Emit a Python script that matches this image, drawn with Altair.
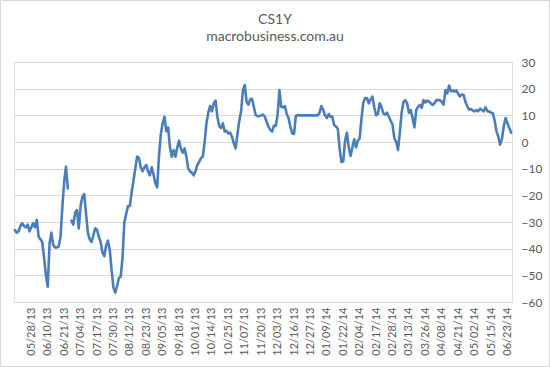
import altair as alt
import pandas as pd

# CS1Y daily values (business days), None = missing observation
values = [
    -33, -34, -33.5, -31.5, -30.5, -31.5, -32, -31, -33.5, -32,
    -30.5, -32, -29.2, -35.5, -36.5, -37.5, -43.5, -50, -54.3, -38,
    -34, -38.6, -39.5, -39.5, -39.2, -35.5, -24.5, -15, -9.25, -17.4,
    None, -29.5, -31, -26.5, -25.5, -32.4, -24, -20.5, -19.5, -27,
    -34, -36.5, -37.5, -35, -32.4, -32.9, -35.5, -37.5, -41.5, -42.8,
    -38.8, -37, -40.5, -48, -54.5, -56.5, -54, -51, -50.5, -43.5,
    -30, -27, -24, -24, -19, -14.5, -9.9, -5.5, -6, -9.5,
    -11, -9.5, -8.6, -11.1, -12.5, -9.5, -12.3, -15.5, -17, -5,
    3, 7, 9.5, 4, 5.5, -2, -5.5, -3, -5.5, -2,
    0.5, -2.5, -4, -2.4, -5.5, -9.9, -11, -11.5, -12.5, -11,
    -8.5, -7.5, -6, -5.5, 0, 7, 11, 13.5, 11.5, 14.5,
    15.5, 9.5, 6, 5.2, 7, 3.9, 4.2, 3.2, 3.5, 2,
    -0.5, -2.4, 3, 8, 11.5, 19.5, 21.4, 15, 14, 16,
    16.2, 13, 10.1, 9.7, 9.7, 10, 10.3, 9.5, 7.5, 5.8,
    4.5, 3.9, 6.2, 6, 10, 19.5, 13.2, 13, 13.5, 10.5,
    9, 5.7, 3.2, 3, 9.8, 10, 10, 10, 10, 10,
    10, 10, 10, 10, 10, 10, 10, 11, 13.5, 12,
    10, 9, 10.5, 9.5, 9.5, 6.4, 5.8, 5, -2.5, -7.5,
    -7.2, 0.5, 3.5, -2, -5.2, -2, 1, -2, 0.5, 1.4,
    8.9, 14.8, 16.5, 16.5, 14.5, 16, 17, 13, 10, 10.5,
    14.5, 13, 10.7, 10.3, 11, 9.5, 8, 6.5, 1.5, 0.1,
    -3, 3.5, 11, 15, 15.7, 14.5, 11, 12, 8.9, 5.5,
    12, 13.2, 13.9, 12.8, 15.7, 14.8, 15.5, 15.2, 14.5, 13.9,
    14.5, 15.7, 15.7, 15.7, 15, 14, 19.5, 18.2, 21.2, 19,
    19.4, 18.9, 19.4, 18, 17.1, 17.8, 17.6, 15, 13.4, 12.1,
    12.4, 11.8, 11.5, 12, 11.5, 12.5, 12, 11.5, 13, 11.5,
    11.5, 11, 10.8, 8, 4, 2, -1, 1.2, 6, 9,
    7, 5.3, 3.5,
]

tick_labels = [
    "05/28/13", "06/10/13", "06/21/13", "07/04/13", "07/17/13", "07/30/13",
    "08/12/13", "08/23/13", "09/05/13", "09/18/13", "10/01/13", "10/14/13",
    "10/25/13", "11/07/13", "11/20/13", "12/03/13", "12/16/13", "12/27/13",
    "01/09/14", "01/22/14", "02/04/14", "02/17/14", "02/28/14", "03/13/14",
    "03/26/14", "04/08/14", "04/21/14", "05/02/14", "05/15/14", "06/23/14",
]
first_label_index = 9
label_step = 9

y_ticks = [-60, -50, -40, -30, -20, -10, 0, 10, 20, 30]

title_text = "CS1Y"
subtitle_text = "macrobusiness.com.au"

n = len(values)
seg = []
s = 0
for v in values:
    if v is None:
        s += 1
    seg.append(s)
df = pd.DataFrame({"i": list(range(n)), "v": values, "seg": seg})
df = df[df["v"].notna()]

label_positions = [first_label_index + label_step * k for k in range(len(tick_labels))]
label_array = "[" + ",".join("'" + t + "'" for t in tick_labels) + "]"
label_expr = f"{label_array}[round((datum.value - {first_label_index}) / {label_step})]"

FONT = "Lato"
GRAY = "#595959"

x_enc = alt.X(
    "i:Q",
    scale=alt.Scale(domain=[-0.5, n - 0.5], nice=False, zero=False),
    axis=alt.Axis(
        values=label_positions,
        labelExpr=label_expr,
        labelAngle=-90,
        labelFont=FONT,
        labelFontSize=11,
        labelColor=GRAY,
        labelPadding=5,
        labelOverlap=False,
        grid=False,
        ticks=False,
        domain=False,
        title=None,
    ),
)
y_enc = alt.Y(
    "v:Q",
    scale=alt.Scale(domain=[-60, 30], nice=False, zero=False),
    axis=alt.Axis(
        orient="right",
        values=y_ticks,
        grid=True,
        gridColor="#D9D9D9",
        gridWidth=1,
        domain=False,
        ticks=False,
        labelFont=FONT,
        labelFontSize=12,
        labelColor=GRAY,
        labelPadding=9,
        title=None,
    ),
)

line = alt.Chart(df).mark_line(
    color="#4A7EBB", strokeWidth=2.6, strokeJoin="round", strokeCap="round"
).encode(x=x_enc, y=y_enc, detail="seg:N")

one = pd.DataFrame({"a": [0]})

border = alt.Chart(one).mark_rect(
    fill=None, stroke="#D9D9D9", strokeWidth=1
).encode(
    x=alt.value(-13.5), x2=alt.value(535.5), y=alt.value(-61.5), y2=alt.value(304.5)
)

title_mark = alt.Chart(one).mark_text(
    text=title_text, font=FONT, fontSize=14, color=GRAY, align="center", baseline="middle"
).encode(x=alt.value(261), y=alt.value(-42))

subtitle_mark = alt.Chart(one).mark_text(
    text=subtitle_text, font=FONT, fontSize=14, color=GRAY, align="center", baseline="middle"
).encode(x=alt.value(261), y=alt.value(-25))

chart = alt.layer(border, title_mark, subtitle_mark, line).properties(
    width=498,
    height=240,
    autosize=alt.AutoSizeParams(type="none"),
    padding={"left": 14, "top": 62, "right": 38, "bottom": 65},
).configure_view(stroke=None).configure(background="white")

chart.save("out.html", embed_options={"renderer": "svg", "actions": False})
